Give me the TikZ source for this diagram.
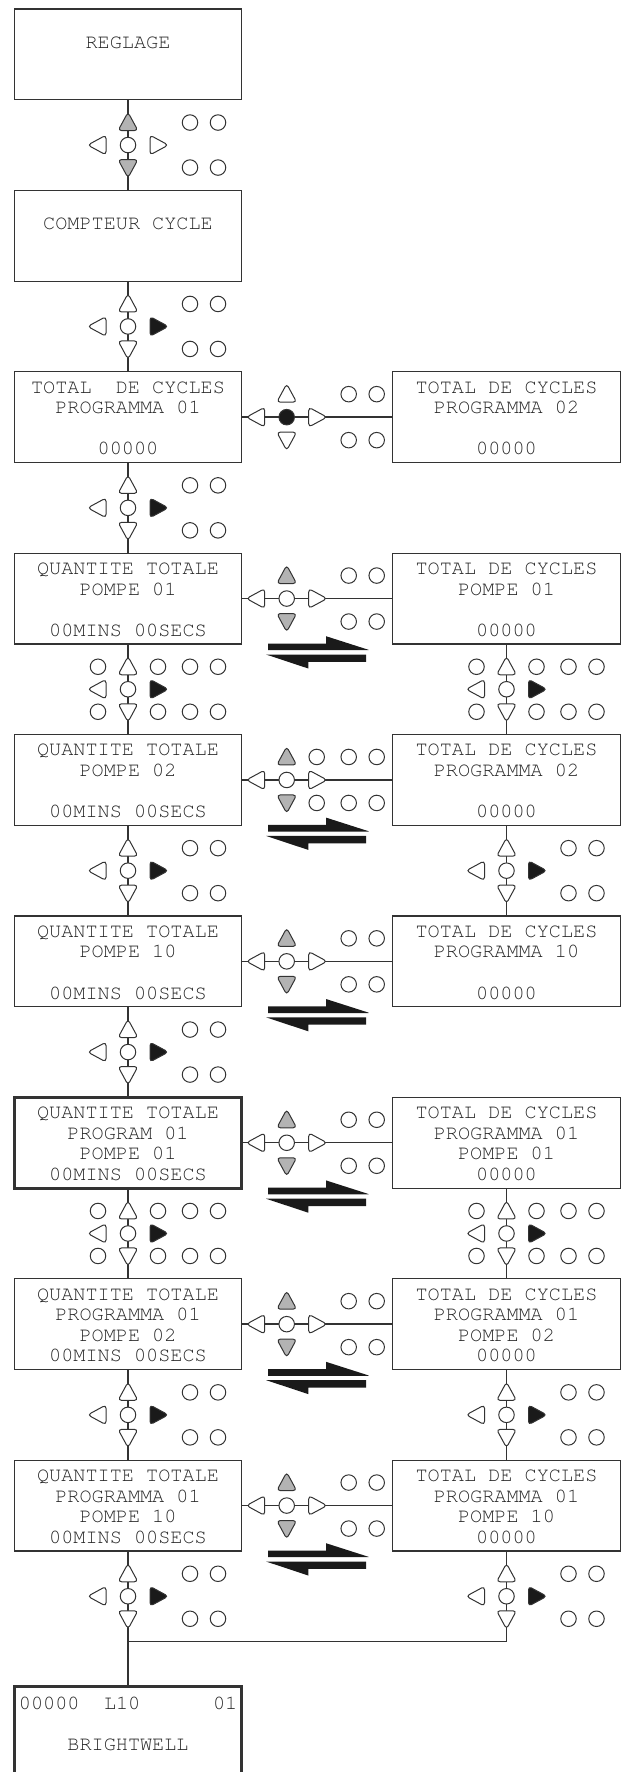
\documentclass[tikz,border=0pt]{standalone}
\usepackage[T1]{fontenc}
\definecolor{ln}{HTML}{333333}
\definecolor{tx}{HTML}{262626}
\definecolor{gr}{HTML}{B3B3B3}
\definecolor{blk}{HTML}{1A1A1A}
\tikzset{
 box/.style={draw=ln, line width=1.2pt, minimum width=227.5pt, minimum height=90.7pt, inner sep=0pt, outer sep=0pt},
 thickbox/.style={box, line width=3pt},
 txt/.style={anchor=base, inner sep=0pt, outer sep=0pt, text=tx, font=\fontsize{20.2}{24}\fontencoding{T1}\fontfamily{pcr}\selectfont},
 txtw/.style={txt, anchor=base west},
 conn/.style={draw=ln, line width=1.4pt},
 btn/.style={circle, draw=ln, line width=1pt, fill=white, minimum size=15.5pt, inner sep=0pt},
 pics/tri/.style={code={\draw[draw=ln, line width=1pt, fill=#1, rounded corners=3.4pt] (0,-10.3) -- (9.9,8) -- (-9.9,8) -- cycle;}},
 pics/tri/.default=white,
 harpoon/.style={fill=blk},
}
% vertical keypad: name, cx, cy, up/down fill, right fill, extended
\newcommand{\vkp}[6]{%
 \pic at (#2,#3-22.5) {tri=#4};
 \pic[rotate=180] at (#2,#3+22.5) {tri=#4};
 \pic[rotate=90] at (#2-30,#3) {tri=white};
 \pic[rotate=-90] at (#2+30,#3) {tri=#5};
 \node[btn] (#1c) at (#2,#3) {};
 \node[btn] (#1p) at (#2+62,#3-22.5) {};
 \node[btn] (#1q) at (#2+90,#3-22.5) {};
 \node[btn] (#1r) at (#2+62,#3+22.5) {};
 \node[btn] (#1s) at (#2+90,#3+22.5) {};
 \ifnum#6=1
 \node[btn] (#1t) at (#2-30,#3-22.5) {};
 \node[btn] (#1u) at (#2+30,#3-22.5) {};
 \node[btn] (#1v) at (#2-30,#3+22.5) {};
 \node[btn] (#1w) at (#2+30,#3+22.5) {};
 \fi}
% horizontal keypad: name, cx, cy, up/down fill, centre fill, extended
\newcommand{\hkp}[6]{%
 \pic at (#2,#3-23) {tri=#4};
 \pic[rotate=180] at (#2,#3+23) {tri=#4};
 \pic[rotate=90] at (#2-30,#3) {tri=white};
 \pic[rotate=-90] at (#2+30,#3) {tri=white};
 \node[btn, fill=#5] (#1c) at (#2,#3) {};
 \node[btn] (#1p) at (#2+62,#3-23) {};
 \node[btn] (#1q) at (#2+90,#3-23) {};
 \node[btn] (#1r) at (#2+62,#3+23) {};
 \node[btn] (#1s) at (#2+90,#3+23) {};
 \ifnum#6=1
 \node[btn] (#1t) at (#2+30,#3-23) {};
 \node[btn] (#1u) at (#2+30,#3+23) {};
 \fi}
% double harpoon under a row whose top is #1
\newcommand{\harp}[1]{%
 \fill[harpoon] (268,#1+90.3) -- (326,#1+90.3) -- (326,#1+83) -- (368.5,#1+96.6) -- (368.5,#1+97) -- (268,#1+97) -- cycle;
 \fill[harpoon] (266,#1+101.3) -- (366,#1+101.3) -- (366,#1+108.7) -- (308.3,#1+108.7) -- (308.3,#1+115.3) -- cycle;}
% text lines 1,2,4
\newcommand{\threel}[6]{%
 \node[txt] (#1a) at (#2,#3+21.3) {#4};
 \node[txt] (#1b) at (#2,#3+41.9) {#5};
 \node[txt] (#1d) at (#2,#3+83.1) {#6};}
% text lines 1..4
\newcommand{\fourl}[7]{%
 \node[txt] (#1a) at (#2,#3+21.3) {#4};
 \node[txt] (#1b) at (#2,#3+41.9) {#5};
 \node[txt] (#1c) at (#2,#3+62.5) {#6};
 \node[txt] (#1d) at (#2,#3+83.1) {#7};}
\begin{document}
\begin{tikzpicture}[x=1pt,y=-1pt]
\useasboundingbox (0,0) rectangle (626,1772);
% boxes
\node[box] (L0) at (128,54.35) {};
\node[box] (L1) at (128,235.75) {};
\node[box] (L2) at (128,417.15) {};
\node[box] (R2) at (506.5,417.15) {};
\node[box] (L3) at (128,598.55) {};
\node[box] (R3) at (506.5,598.55) {};
\node[box] (L4) at (128,779.95) {};
\node[box] (R4) at (506.5,779.95) {};
\node[box] (L5) at (128,961.35) {};
\node[box] (R5) at (506.5,961.35) {};
\node[thickbox] (L6) at (128,1142.75) {};
\node[box] (R6) at (506.5,1142.75) {};
\node[box] (L7) at (128,1324.15) {};
\node[box] (R7) at (506.5,1324.15) {};
\node[box] (L8) at (128,1505.55) {};
\node[box] (R8) at (506.5,1505.55) {};
\node[thickbox] (B) at (128,1732.05) {};
\coordinate (mL) at (128,1641.7);
% connectors
\draw[conn] (L0.south) -- (L1.north);
\draw[conn] (L1.south) -- (L2.north);
\draw[conn] (L2.south) -- (L3.north);
\draw[conn] (L3.south) -- (L4.north);
\draw[conn] (L4.south) -- (L5.north);
\draw[conn] (L5.south) -- (L6.north);
\draw[conn] (L6.south) -- (L7.north);
\draw[conn] (L7.south) -- (L8.north);
\draw[conn] (L8.south) -- (B.north);
\draw[conn] (R3.south) -- (R4.north);
\draw[conn] (R4.south) -- (R5.north);
\draw[conn] (R6.south) -- (R7.north);
\draw[conn] (R7.south) -- (R8.north);
\draw[conn] (R8.south) |- (mL);
\draw[conn] (L2.east) -- (R2.west);
\draw[conn] (L3.east) -- (R3.west);
\draw[conn] (L4.east) -- (R4.west);
\draw[conn] (L5.east) -- (R5.west);
\draw[conn] (L6.east) -- (R6.west);
\draw[conn] (L7.east) -- (R7.west);
\draw[conn] (L8.east) -- (R8.west);
% vertical keypads
\vkp{k0}{128}{145.05}{gr}{white}{0}
\vkp{k1}{128}{326.45}{white}{blk}{0}
\vkp{k2}{128}{507.85}{white}{blk}{0}
\vkp{k3}{128}{689.25}{white}{blk}{1}
\vkp{k3r}{506.5}{689.25}{white}{blk}{1}
\vkp{k4}{128}{870.65}{white}{blk}{0}
\vkp{k4r}{506.5}{870.65}{white}{blk}{0}
\vkp{k5}{128}{1052.05}{white}{blk}{0}
\vkp{k6}{128}{1233.45}{white}{blk}{1}
\vkp{k6r}{506.5}{1233.45}{white}{blk}{1}
\vkp{k7}{128}{1414.85}{white}{blk}{0}
\vkp{k7r}{506.5}{1414.85}{white}{blk}{0}
\vkp{k8}{128}{1596.25}{white}{blk}{0}
\vkp{k8r}{506.5}{1596.25}{white}{blk}{0}
% horizontal keypads
\hkp{h2}{286.7}{417.15}{white}{blk}{0}
\hkp{h3}{286.7}{598.55}{gr}{white}{0}
\hkp{h4}{286.7}{779.95}{gr}{white}{1}
\hkp{h5}{286.7}{961.35}{gr}{white}{0}
\hkp{h6}{286.7}{1142.75}{gr}{white}{0}
\hkp{h7}{286.7}{1324.15}{gr}{white}{0}
\hkp{h8}{286.7}{1505.55}{gr}{white}{0}
% harpoons
\harp{553.2}
\harp{734.6}
\harp{916.0}
\harp{1097.4}
\harp{1278.8}
\harp{1460.2}
% texts
\node[txt] (L0t) at (128,48.5) {REGLAGE};
\node[txt] (L1t) at (128,229.9) {COMPTEUR CYCLE};
\threel{L2}{128}{371.8}{TOTAL\ \ DE CYCLES}{PROGRAMMA 01}{00000}
\threel{R2}{506.5}{371.8}{TOTAL DE CYCLES}{PROGRAMMA 02}{00000}
\threel{L3}{128}{553.2}{QUANTITE TOTALE}{POMPE 01}{00MINS 00SECS}
\threel{R3}{506.5}{553.2}{TOTAL DE CYCLES}{POMPE 01}{00000}
\threel{L4}{128}{734.6}{QUANTITE TOTALE}{POMPE 02}{00MINS 00SECS}
\threel{R4}{506.5}{734.6}{TOTAL DE CYCLES}{PROGRAMMA 02}{00000}
\threel{L5}{128}{916.0}{QUANTITE TOTALE}{POMPE 10}{00MINS 00SECS}
\threel{R5}{506.5}{916.0}{TOTAL DE CYCLES}{PROGRAMMA 10}{00000}
\fourl{L6}{128}{1097.4}{QUANTITE TOTALE}{PROGRAM 01}{POMPE 01}{00MINS 00SECS}
\fourl{R6}{506.5}{1097.4}{TOTAL DE CYCLES}{PROGRAMMA 01}{POMPE 01}{00000}
\fourl{L7}{128}{1278.8}{QUANTITE TOTALE}{PROGRAMMA 01}{POMPE 02}{00MINS 00SECS}
\fourl{R7}{506.5}{1278.8}{TOTAL DE CYCLES}{PROGRAMMA 01}{POMPE 02}{00000}
\fourl{L8}{128}{1460.2}{QUANTITE TOTALE}{PROGRAMMA 01}{POMPE 10}{00MINS 00SECS}
\fourl{R8}{506.5}{1460.2}{TOTAL DE CYCLES}{PROGRAMMA 01}{POMPE 10}{00000}
\node[txtw] (Ba) at (19,1709.3) {00000};
\node[txtw] (Bb) at (104,1709.3) {L10};
\node[txtw] (Bc) at (213,1709.3) {01};
\node[txt] (Bd) at (128,1750.7) {BRIGHTWELL};
\end{tikzpicture}
\end{document}
